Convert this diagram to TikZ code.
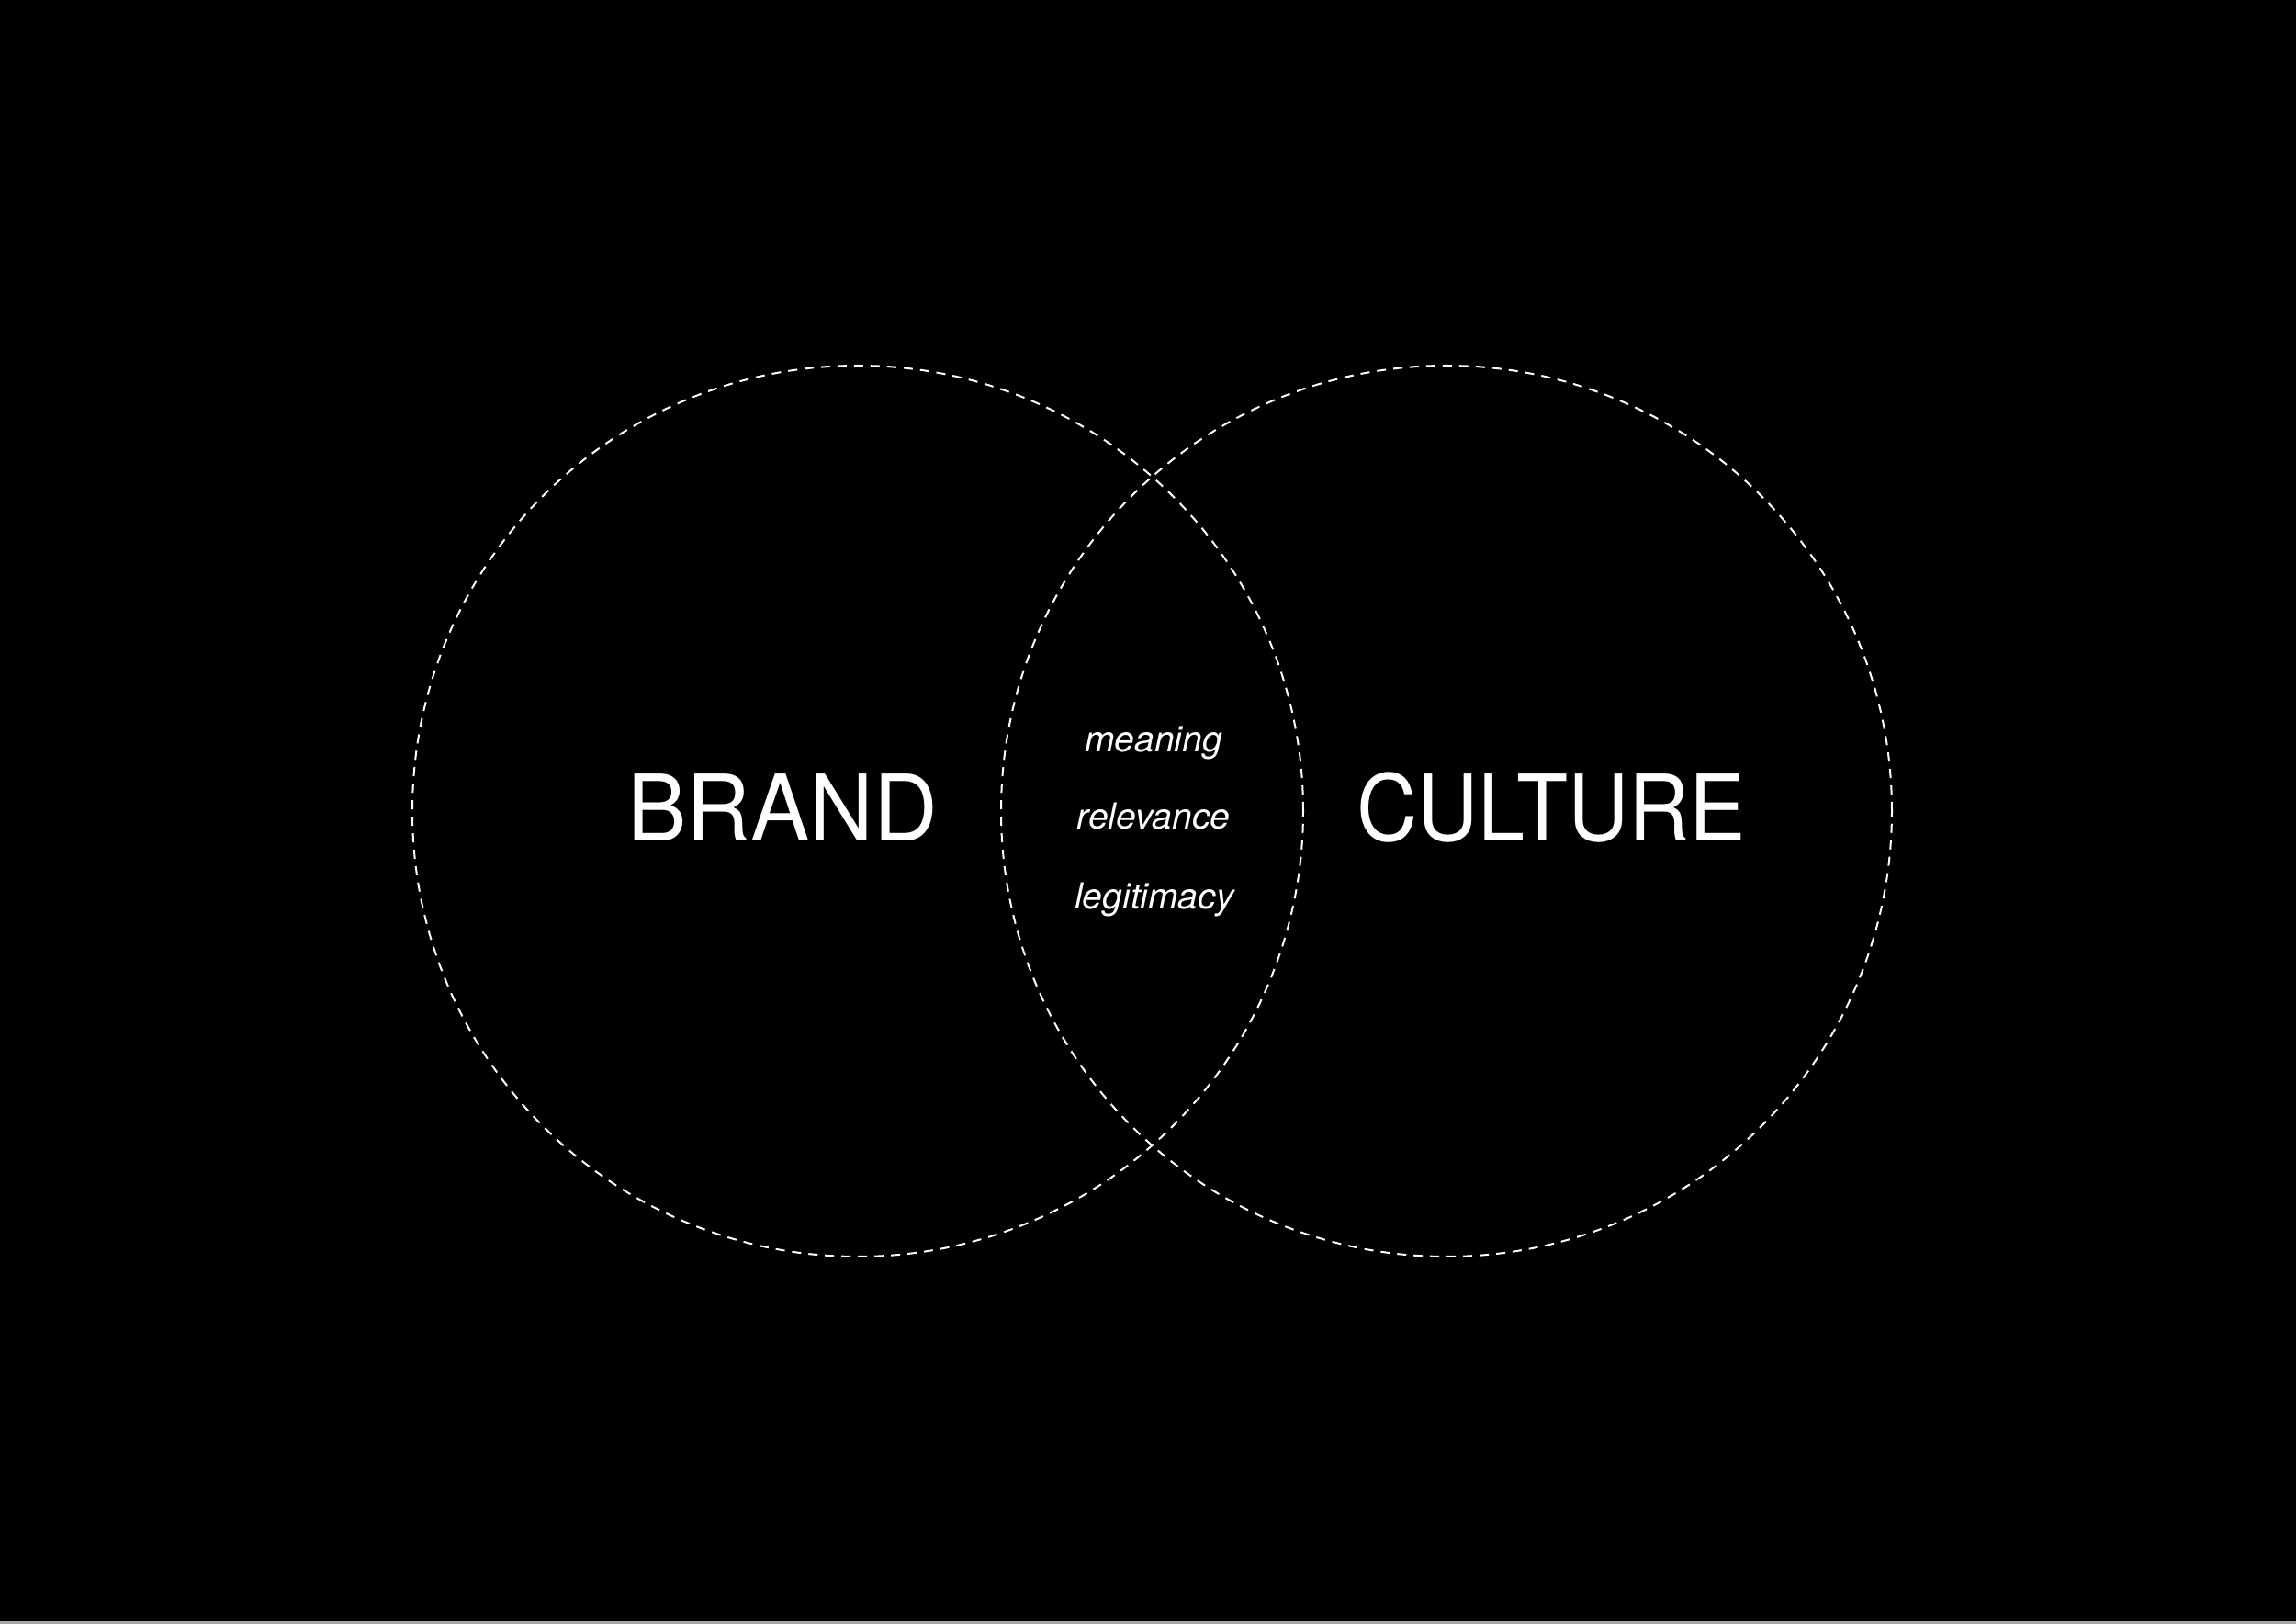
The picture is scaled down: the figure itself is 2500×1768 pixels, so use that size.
\documentclass[tikz,border=0pt]{standalone}
\usepackage{fontspec}
\setmainfont{TeX Gyre Heros}
\begin{document}
\begin{tikzpicture}[x=0.3pt,y=-0.3pt,
  ring/.style={draw=white, circle, inner sep=0pt, minimum size=291pt, line width=0.6pt, dash pattern=on 3pt off 2.4pt},
  bigword/.style={text=white, anchor=base, inner sep=0pt, font=\fontsize{30pt}{36pt}\selectfont},
  smallword/.style={text=white, anchor=base, inner sep=0pt, font=\fontsize{11.7pt}{13.5pt}\selectfont\itshape}]
\fill[black] (0,0) rectangle (2500,1768);
\useasboundingbox (0,0) rectangle (2500,1768);
\fill[gray!70] (0,1765) rectangle (2500,1768);
\node[ring] (brandc) at (934,883) {};
\node[ring] (culturec) at (1575,883) {};
\node[bigword] (brand) at (852,916) {\scalebox{0.965}[1]{BRAND}};
\node[bigword] (culture) at (1689,916) {\scalebox{0.918}[1]{CULTURE}};
\node[smallword] (meaning) at (1256,819) {meaning};
\node[smallword] (relevance) at (1256,903) {relevance};
\node[smallword] (legitimacy) at (1257,990) {legitimacy};
\end{tikzpicture}
\end{document}
